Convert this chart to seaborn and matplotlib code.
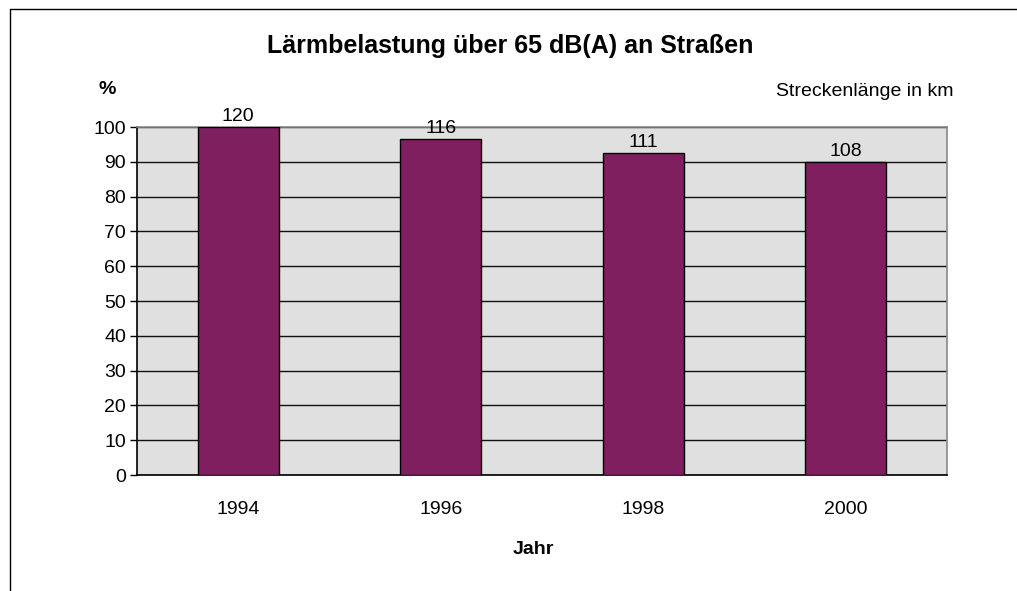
import seaborn as sns
import matplotlib.pyplot as plt
import pandas as pd
from matplotlib.lines import Line2D

years = ["1994", "1996", "1998", "2000"]
km_values = [120, 116, 111, 108]
percent_values = [v / km_values[0] * 100 for v in km_values]
y_ticks = [0, 10, 20, 30, 40, 50, 60, 70, 80, 90, 100]

df = pd.DataFrame({"Jahr": years, "Prozent": percent_values, "km": km_values})

sns.set_theme(style="white", rc={"text.color": "black", "xtick.color": "black",
                                 "ytick.color": "black", "axes.labelcolor": "black"})
plt.rcParams["font.family"] = ["Liberation Sans", "DejaVu Sans"]

fig = plt.figure(figsize=(10.17, 5.91), dpi=100)
ax = fig.add_axes([137 / 1017, 1 - 475 / 591, (947 - 137) / 1017, (475 - 127) / 591])

sns.barplot(data=df, x="Jahr", y="Prozent", color="#7F1F5F", saturation=1,
            width=0.4, edgecolor="black", linewidth=1, ax=ax, zorder=3)

ax.set_facecolor("#E0E0E0")
ax.set_ylim(0, 100)
ax.set_yticks(y_ticks)
ax.set_yticklabels([str(t) for t in y_ticks], fontsize=14)
ax.grid(axis="y", color="#111111", linewidth=1, zorder=1)
ax.set_axisbelow(True)
ax.tick_params(axis="y", length=5, width=1, color="black", direction="out", left=True, pad=3)
ax.tick_params(axis="x", length=0, labelsize=14, pad=19)
ax.set_xlabel("")
ax.set_ylabel("")

for side in ["top", "right"]:
    ax.spines[side].set_color("#888888")
    ax.spines[side].set_linewidth(1.2)
for side in ["left", "bottom"]:
    ax.spines[side].set_color("black")
    ax.spines[side].set_linewidth(1.2)

for i, v in enumerate(km_values):
    ax.text(i, percent_values[i] + 0.5, str(v), ha="center", va="bottom", fontsize=14, zorder=4)

fig.text(510 / 1017, 1 - 46 / 591, "Lärmbelastung über 65 dB(A) an Straßen",
         ha="center", va="center", fontsize=18, fontweight="bold")
fig.text(107 / 1017, 1 - 90 / 591, "%", ha="center", va="center", fontsize=14, fontweight="bold")
fig.text(865 / 1017, 1 - 91 / 591, "Streckenlänge in km", ha="center", va="center", fontsize=14)
fig.text(533 / 1017, 1 - 549 / 591, "Jahr", ha="center", va="center", fontsize=14, fontweight="bold")

# frame lines of the chart area
fig.add_artist(Line2D([10 / 1017, 10 / 1017], [0, 1 - 9 / 591], transform=fig.transFigure,
                      color="black", linewidth=1))
fig.add_artist(Line2D([10 / 1017, 1], [1 - 9 / 591, 1 - 9 / 591], transform=fig.transFigure,
                      color="black", linewidth=1))

fig.savefig("out.png", dpi=100)
plt.close(fig)
